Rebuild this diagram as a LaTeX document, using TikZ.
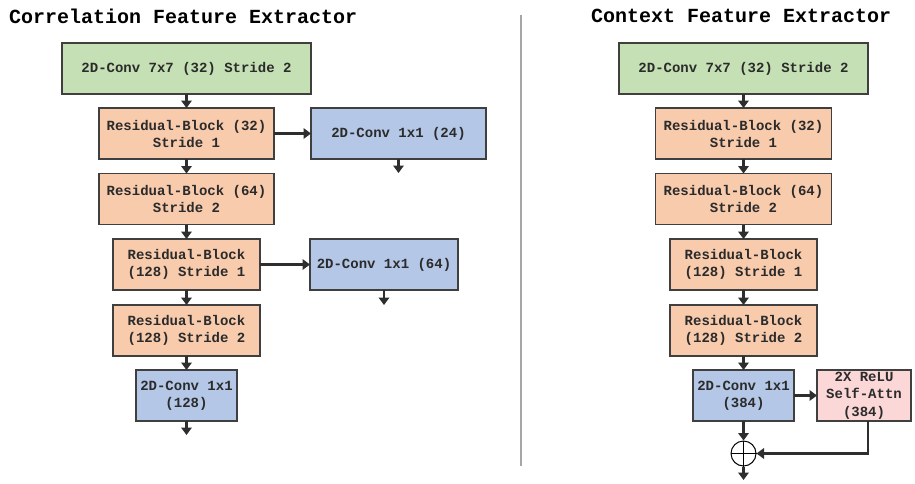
\documentclass[tikz,border=0pt]{standalone}
\usepackage{fontspec}
\setmonofont{Liberation Mono}
\usetikzlibrary{arrows.meta}
\definecolor{greenc}{HTML}{C5E0B4}
\definecolor{orangec}{HTML}{F8CBAD}
\definecolor{bluec}{HTML}{B4C7E7}
\definecolor{pinkc}{HTML}{FBD7D7}
\definecolor{bordc}{HTML}{3F3F3F}
\definecolor{txtc}{HTML}{2B2B2B}
\definecolor{arrc}{HTML}{2E2E2E}
\definecolor{divc}{HTML}{A6A6A6}
\begin{document}
\begin{tikzpicture}[x=1pt,y=-1pt,
  box/.style={draw=bordc, line width=1.1pt, align=center, inner sep=0pt, outer sep=0pt,
    text=txtc, font=\ttfamily\bfseries\fontsize{14}{17}\selectfont, minimum height=51},
  gbox/.style={box, fill=greenc, minimum width=249},
  obox/.style={box, fill=orangec},
  bbox/.style={box, fill=bluec},
  pbox/.style={box, fill=pinkc},
  arr/.style={line width=2.6pt, draw=arrc, -{Triangle[length=7.5pt,width=10.5pt]}},
  ttl/.style={font=\ttfamily\bfseries\fontsize{20}{22}\selectfont, text=black, inner sep=0pt}]
\useasboundingbox (0,0) rectangle (915,483);
% titles
\node[ttl, anchor=west] (t1) at (9,16) {Correlation Feature Extractor};
\node[ttl, anchor=west] (t2) at (591,16) {Context Feature Extractor};
% divider
\draw[divc, line width=1.2pt] (521,15) -- (521,466);
% left column
\node[gbox] (lg) at (186.5,68.5) {2D-Conv 7x7 (32) Stride 2};
\node[obox, minimum width=175] (lr1) at (186.5,133.5) {Residual-Block (32)\\Stride 1};
\node[obox, minimum width=175] (lr2) at (186.5,199) {Residual-Block (64)\\Stride 2};
\node[obox, minimum width=147] (lr3) at (186.5,264.5) {Residual-Block\\(128) Stride 1};
\node[obox, minimum width=147] (lr4) at (186.5,330.5) {Residual-Block\\(128) Stride 2};
\node[bbox, minimum width=101] (lc) at (186.5,395.5) {2D-Conv 1x1\\(128)};
\node[bbox, minimum width=175] (lb1) at (398.5,133.5) {2D-Conv 1x1 (24)};
\node[bbox, minimum width=148] (lb2) at (384,264.5) {2D-Conv 1x1 (64)};
\coordinate (le1) at (398.5,173);
\coordinate (le2) at (384,305);
\coordinate (le3) at (186.5,435);
\draw[arr] (lg) -- (lr1);
\draw[arr] (lr1) -- (lr2);
\draw[arr] (lr2) -- (lr3);
\draw[arr] (lr3) -- (lr4);
\draw[arr] (lr4) -- (lc);
\draw[arr] (lr1) -- (lb1);
\draw[arr] (lr3) -- (lb2);
\draw[arr] (lb1.south) -- (le1);
\draw[arr] (lb2.south) -- (le2);
\draw[arr] (lc.south) -- (le3);
% right column
\node[gbox] (rg) at (743.5,68.5) {2D-Conv 7x7 (32) Stride 2};
\node[obox, minimum width=176] (rr1) at (743.5,133.5) {Residual-Block (32)\\Stride 1};
\node[obox, minimum width=176] (rr2) at (743.5,199) {Residual-Block (64)\\Stride 2};
\node[obox, minimum width=147] (rr3) at (743.5,264.5) {Residual-Block\\(128) Stride 1};
\node[obox, minimum width=147] (rr4) at (743.5,330.5) {Residual-Block\\(128) Stride 2};
\node[bbox, minimum width=101] (rc) at (743.5,395.5) {2D-Conv 1x1\\(384)};
\node[pbox, minimum width=94, font=\ttfamily\bfseries\fontsize{14}{17.5}\selectfont] (ra) at (864,395.5) {2X ReLU\\Self-Attn\\(384)};
\node[draw=black, line width=1pt, circle, minimum size=25, inner sep=0pt] (plus) at (743.5,453.5) {};
\draw[black, line width=1pt] (plus.north) -- (plus.south) (plus.west) -- (plus.east);
\coordinate (re) at (743.5,480);
\draw[arr] (rg) -- (rr1);
\draw[arr] (rr1) -- (rr2);
\draw[arr] (rr2) -- (rr3);
\draw[arr] (rr3) -- (rr4);
\draw[arr] (rr4) -- (rc);
\draw[arr] (rc) -- (ra);
\draw[arr] (rc) -- (plus);
\draw[arr] (ra.south -| 868,0) |- (plus.east);
\draw[arr] (plus) -- (re);
\end{tikzpicture}
\end{document}
